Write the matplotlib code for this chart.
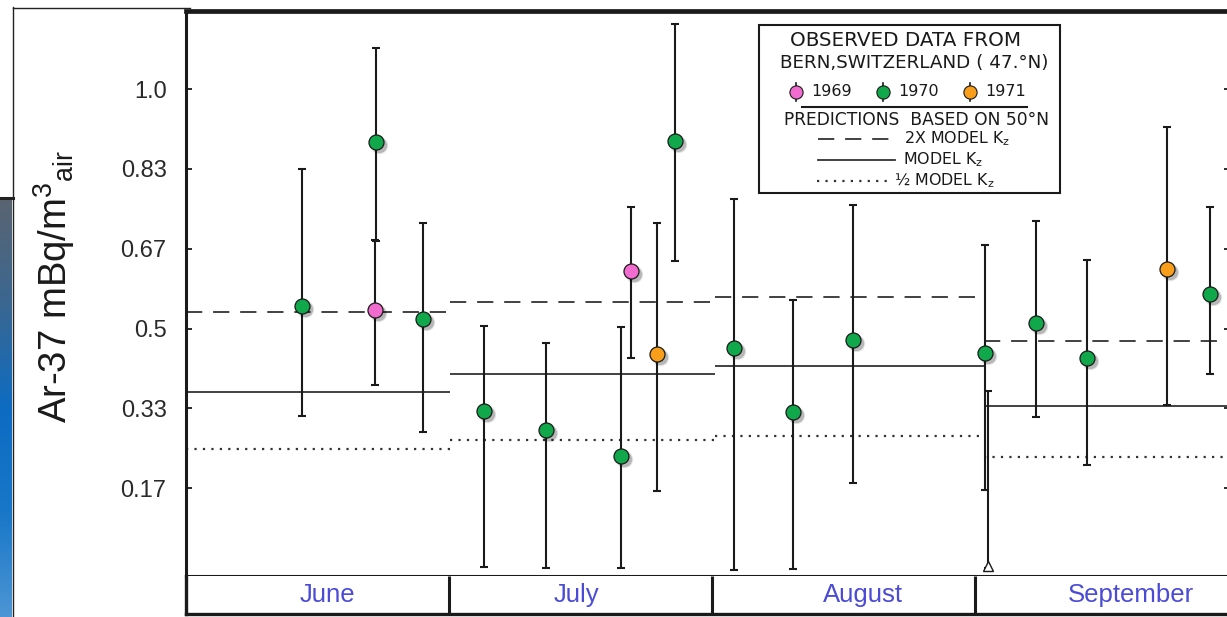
import matplotlib
matplotlib.use('Agg')
import matplotlib.colors as colors
import matplotlib.lines as lines
import matplotlib.patches as patches
import matplotlib.pyplot as pyplot
import matplotlib.transforms as transforms
import numpy


# observed Ar-37 activity, x in months from 1 June
MONTHS = ['June', 'July', 'August', 'September']

YEAR_1969_X = [0.718, 1.692]
YEAR_1969_VALUE = [0.539, 0.621]
YEAR_1969_UPPER = [0.685, 0.754]
YEAR_1969_LOWER = [0.382, 0.439]

YEAR_1970_X = [0.441, 0.721, 0.902, 1.134, 1.369, 1.654, 1.860,
               2.082, 2.309, 2.535, 3.038, 3.233, 3.427, 3.892]
YEAR_1970_VALUE = [0.548, 0.890, 0.519, 0.328, 0.288, 0.234, 0.891,
                   0.460, 0.325, 0.477, 0.449, 0.512, 0.438, 0.573]
YEAR_1970_UPPER = [0.833, 1.086, 0.720, 0.506, 0.470, 0.504, 1.136,
                   0.770, 0.559, 0.758, 0.674, 0.724, 0.642, 0.754]
YEAR_1970_LOWER = [0.317, 0.683, 0.283, 0.003, 0.001, -0.001, 0.641,
                   -0.004, -0.002, 0.177, 0.163, 0.316, 0.215, 0.405]

YEAR_1971_X = [1.792, 3.730]
YEAR_1971_VALUE = [0.447, 0.624]
YEAR_1971_UPPER = [0.721, 0.920]
YEAR_1971_LOWER = [0.160, 0.340]

# upper limit only (open triangle at the bottom)
LIMIT_X = [3.049]
LIMIT_UPPER = [0.370]

# model predictions for 50N, one value per month
MODEL_EDGES = [0.0, 1.004, 2.011, 3.034, 4.2]
MODEL_2X_KZ = [0.535, 0.556, 0.565, 0.474]
MODEL_KZ = [0.368, 0.404, 0.422, 0.338]
MODEL_HALF_KZ = [0.248, 0.267, 0.276, 0.231]

Y_TICKS = [1 / 6, 2 / 6, 3 / 6, 4 / 6, 5 / 6, 1.0]
Y_TICK_LABELS = ['0.17', '0.33', '0.5', '0.67', '0.83', '1.0']

# layout only
MONTH_LABEL_POS = [0.536, 1.483, 2.574, 3.593]

FIG_W = 1227
FIG_H = 617
PINK = '#f26ccf'
GREEN = '#10a84a'
ORANGE = '#f89e1b'
INK = '#1a1a1a'
LINE_INK = '#333333'
MONTH_BLUE = '#4b4bd6'

DASHED = (0, (9, 6))
DOTTED = (0, (1, 2.8))


def fx(x):
    return x / FIG_W


def fy(y):
    return 1 - y / FIG_H


def draw_series(axes, x, value, lower, upper, colour):
    value = numpy.array(value)
    yerr = [value - numpy.array(lower), numpy.array(upper) - value]
    axes.errorbar(x, value, yerr=yerr, fmt='none', ecolor=INK,
                  elinewidth=1.5, capsize=3, capthick=1.5, zorder=3)
    for shift, size, alpha in [(3, 12.5, 0.10), (3, 11, 0.20)]:
        shadow = transforms.offset_copy(axes.transData, fig=axes.figure,
                                        x=shift, y=-shift, units='dots')
        axes.plot(x, value, 'o', ms=size, color='black', mew=0,
                  alpha=alpha, transform=shadow, zorder=4)
    axes.plot(x, value, 'o', ms=10.8, mfc=colour, mec=INK, mew=0.9,
              zorder=5)


def draw_models(axes):
    starts = MODEL_EDGES[:-1]
    ends = MODEL_EDGES[1:]
    axes.hlines(MODEL_2X_KZ, starts, ends, colors=LINE_INK, lw=1.3,
                linestyles=[DASHED], zorder=2)
    axes.hlines(MODEL_KZ, starts, ends, colors=LINE_INK, lw=1.3, zorder=2)
    axes.hlines(MODEL_HALF_KZ, starts, ends, colors=LINE_INK, lw=1.6,
                linestyles=[DOTTED], zorder=2)


def draw_legend(figure):
    figure.add_artist(patches.Rectangle(
        (fx(759), fy(193)), fx(301), 168 / FIG_H, transform=figure.transFigure,
        facecolor='white', edgecolor=INK, lw=1.5, zorder=3))
    text_style = dict(family='DejaVu Sans', color=INK, zorder=4,
                      va='center')
    figure.text(fx(906), fy(41), 'OBSERVED DATA FROM', ha='center',
                fontsize=14.3, **text_style)
    figure.text(fx(914), fy(63), 'BERN,SWITZERLAND ( 47.°N)', ha='center',
                fontsize=13.2, **text_style)
    for x, colour, year in [(796, PINK, '1969'), (883, GREEN, '1970'),
                            (970, ORANGE, '1971')]:
        figure.add_artist(lines.Line2D(
            [fx(x), fx(x)], [fy(83), fy(101)], color=INK, lw=1.2,
            transform=figure.transFigure, zorder=4))
        figure.add_artist(lines.Line2D(
            [fx(x)], [fy(92)], marker='o', ms=9.5, mfc=colour, mec=INK,
            mew=0.8, transform=figure.transFigure, zorder=5))
        figure.text(fx(x + 15), fy(92), year, ha='left', fontsize=11.5,
                    **text_style)
    figure.add_artist(lines.Line2D(
        [fx(802), fx(1027)], [fy(107), fy(107)], color=INK, lw=1.5,
        transform=figure.transFigure, zorder=4))
    figure.text(fx(916), fy(120), 'PREDICTIONS  BASED ON 50°N', ha='center',
                fontsize=12.3, **text_style)
    samples = [
        (139, 818, 893, DASHED, 1.3, 904, r'2X MODEL K$_\mathregular{z}$'),
        (160, 818, 895, '-', 1.3, 903, r'MODEL K$_\mathregular{z}$'),
        (181, 817, 890, DOTTED, 1.6, 894, r'½ MODEL K$_\mathregular{z}$'),
    ]
    for y, x0, x1, style, width, text_x, label in samples:
        figure.add_artist(lines.Line2D(
            [fx(x0), fx(x1)], [fy(y), fy(y)], color=LINE_INK, lw=width,
            linestyle=style, transform=figure.transFigure, zorder=4))
        figure.text(fx(text_x), fy(y), label, ha='left', fontsize=11.4,
                    **text_style)


def draw_slide_frame(figure):
    gradient_axes = figure.add_axes([0, 0, fx(12), (FIG_H - 198) / FIG_H])
    gradient = colors.LinearSegmentedColormap.from_list(
        'slide', ['#5a6470', '#3b6791', '#0d6cc2', '#1877c8', '#4d95d4'])
    gradient_axes.imshow(numpy.linspace(0, 1, 256)[:, None], aspect='auto',
                         cmap=gradient)
    gradient_axes.set_axis_off()
    figure.add_artist(lines.Line2D([0, fx(13)], [fy(198), fy(198)],
                                   color='#222222', lw=2.2,
                                   transform=figure.transFigure))
    figure.add_artist(lines.Line2D([fx(13), fx(13)], [fy(7), 0],
                                   color='#222222', lw=1.0,
                                   transform=figure.transFigure))
    figure.add_artist(lines.Line2D([fx(13), fx(190)], [fy(7.5), fy(7.5)],
                                   color='#222222', lw=1.0,
                                   transform=figure.transFigure))


def configure_axes(axes):
    axes.set_xlim(0, (1230 - 186) / 263)
    axes.set_ylim((568 - 576) / 479, (568 - 11) / 479)
    axes.set_xticks([])
    axes.set_yticks(Y_TICKS)
    axes.set_yticklabels(Y_TICK_LABELS, family='Liberation Sans',
                         fontsize=17, color='#2a2a2a')
    axes.tick_params(axis='y', direction='in', length=4, width=1.3,
                     pad=14, right=True, color=INK)
    axes.spines['left'].set_linewidth(2.2)
    axes.spines['top'].set_linewidth(3.4)
    axes.spines['bottom'].set_linewidth(2.2)
    axes.spines['right'].set_linewidth(2.2)
    for spine in axes.spines.values():
        spine.set_color(INK)


def draw_month_box(figure, main_axes):
    box = figure.add_axes([fx(186), fy(614), fx(1230 - 186), 38 / FIG_H])
    box.set_xlim(main_axes.get_xlim())
    box.set_ylim(0, 1)
    box.set_xticks([])
    box.set_yticks([])
    box.spines['top'].set_visible(False)
    for name in ['left', 'bottom', 'right']:
        box.spines[name].set_linewidth(2.4)
        box.spines[name].set_color(INK)
    box.vlines(range(1, len(MONTHS)), 0, 1, colors=INK, lw=2.2)
    for position, month in zip(MONTH_LABEL_POS, MONTHS):
        box.text(position, 0.5, month, ha='center', va='center',
                 family='Liberation Sans', fontsize=18.5, color=MONTH_BLUE)


def main():
    pyplot.rcParams['font.family'] = ['Liberation Sans', 'DejaVu Sans']
    figure = pyplot.figure(figsize=(FIG_W / 100, FIG_H / 100), dpi=100)
    axes = figure.add_axes([fx(186), fy(576), fx(1230 - 186), 565 / FIG_H])
    configure_axes(axes)
    draw_models(axes)

    axes.errorbar(LIMIT_X, [0.0], yerr=[[0.0], LIMIT_UPPER], fmt='none',
                  ecolor=INK, elinewidth=1.5, capsize=3, capthick=1.5,
                  zorder=3)
    axes.plot(LIMIT_X, [0.004], marker='^', ms=7, mfc='white', mec=INK,
              mew=1.0, zorder=5, clip_on=False)

    draw_series(axes, YEAR_1970_X, YEAR_1970_VALUE, YEAR_1970_LOWER,
                YEAR_1970_UPPER, GREEN)
    draw_series(axes, YEAR_1969_X, YEAR_1969_VALUE, YEAR_1969_LOWER,
                YEAR_1969_UPPER, PINK)
    draw_series(axes, YEAR_1971_X, YEAR_1971_VALUE, YEAR_1971_LOWER,
                YEAR_1971_UPPER, ORANGE)

    draw_month_box(figure, axes)
    draw_legend(figure)
    draw_slide_frame(figure)

    figure.text(fx(54), fy(286),
                r'Ar-37 mBq/m$^{\mathregular{3}}$$_{\mathregular{air}}$',
                rotation=90, ha='center', va='center', fontsize=27.5,
                family='Liberation Sans', color=INK)

    figure.savefig('out.png', dpi=100)


if __name__ == '__main__':
    main()
